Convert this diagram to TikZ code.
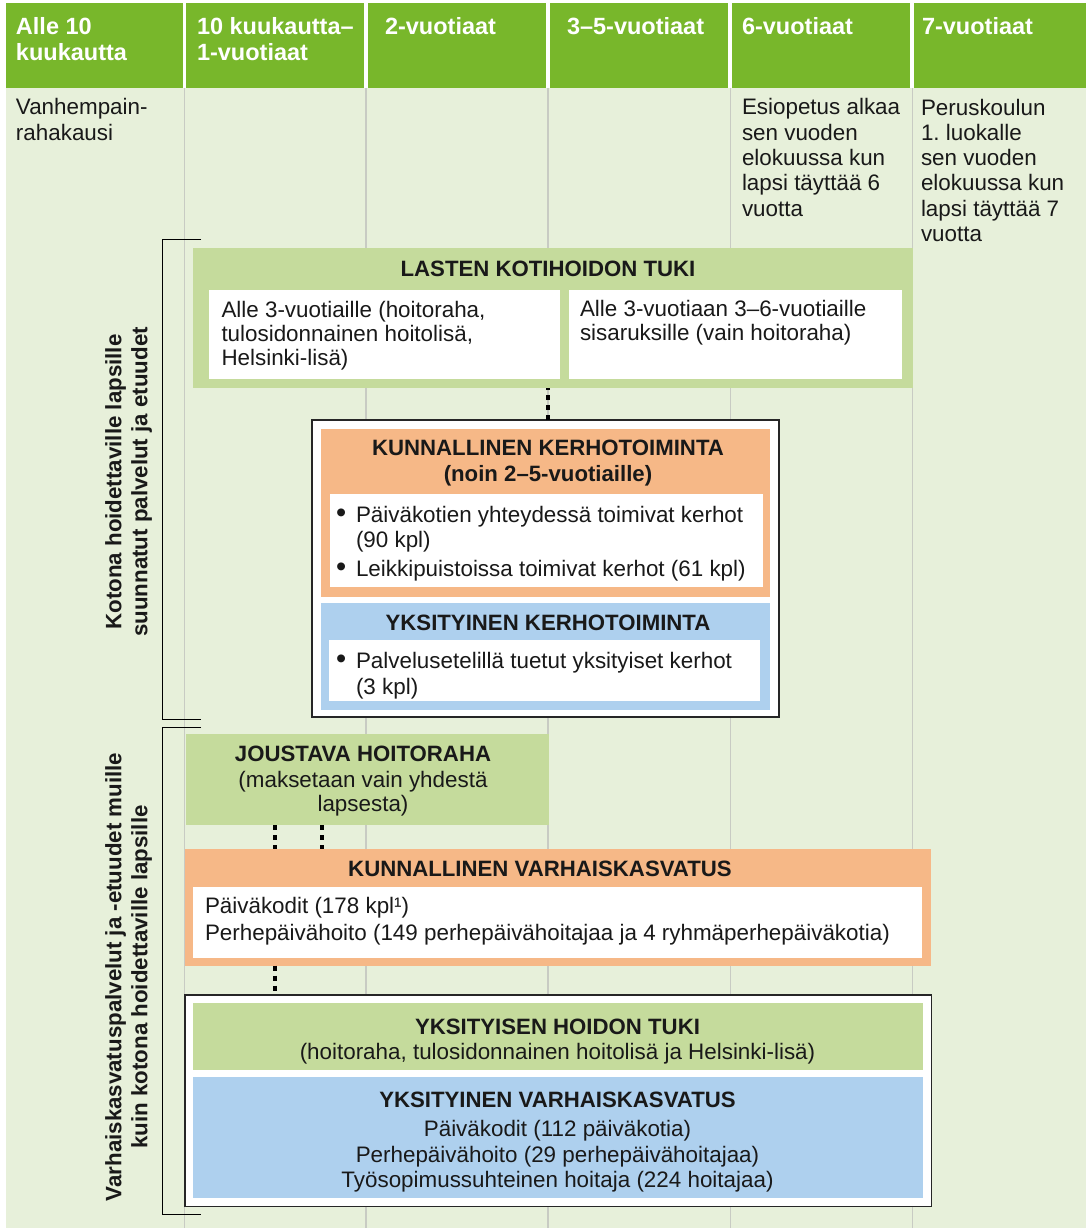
\documentclass[tikz,border=0pt]{standalone}
\usepackage{fontspec}
\setmainfont{Liberation Sans}
\usetikzlibrary{positioning,fit}

\definecolor{headgreen}{HTML}{78B72B}
\definecolor{pagegreen}{HTML}{E7F0DA}
\definecolor{tukigreen}{HTML}{C5DB9C}
\definecolor{kuntaorange}{HTML}{F6B887}
\definecolor{privblue}{HTML}{AED0EE}
\definecolor{gridgrey}{HTML}{C8CBC3}
\newcommand{\itembullet}{\makebox[20pt][l]{\fontsize{29}{25}\selectfont•}}

\begin{document}
\begin{tikzpicture}[x=1pt,y=-1pt,
    every node/.style={inner sep=0pt,outer sep=0pt,text=black!90,
        font=\fontsize{22.4}{25.3}\selectfont},
    headcell/.style={fill=headgreen},
    headtext/.style={anchor=base west,align=left,text=white,
        font=\fontsize{23.5}{26.5}\selectfont\bfseries},
    note/.style={anchor=base west,align=left},
    panel/.style={fill=#1},
    frame/.style={draw=black!85,line width=1.5pt,fill=white},
    title/.style={anchor=base,align=center,font=\fontsize{22.2}{26.5}\selectfont\bfseries},
    side/.style={rotate=90,align=center,font=\fontsize{22.3}{26}\selectfont\bfseries},
    brace/.style={draw=black,line width=1pt},
    dotline/.style={line width=3.5pt,dash pattern=on 5pt off 5pt},
]
\path[use as bounding box,fill=white] (0,0) rectangle (1086,1228);
\fill[pagegreen] (6,88) rectangle (1086,1228);

% age columns (text nodes sit on their last line)
\foreach \xa/\xb/\tx/\ty/\lab [count=\i] in {6/183/16/61/{Alle 10\\kuukautta},
    186/364/197/61/{10 kuukautta–\\1-vuotiaat}, 368/546/385/34.5/2-vuotiaat,
    550/728/567/34.5/3–5-vuotiaat, 732/910/742/34.5/6-vuotiaat, 914/1086/922/34.5/7-vuotiaat}{
    \node[headcell,fit={(\xa,3) (\xb,88)}] (head\i) {};
    \node[headtext] (headlab\i) at (\tx,\ty) {\lab};
}
\foreach \gx in {184.5,366,548,730.5,912.5}
    \draw[gridgrey,line width=1.5pt] (\gx,88) -- (\gx,1228);

\node[note] (parent) at (16,140) {Vanhempain-\\rahakausi};
\node[note] (preschool) at (742,216) {Esiopetus alkaa\\sen vuoden\\elokuussa kun\\lapsi täyttää 6\\vuotta};
\node[note] (school) at (921,241.5) {Peruskoulun\\1.\ luokalle\\sen vuoden\\elokuussa kun\\lapsi täyttää 7\\vuotta};

% brackets and side labels
\draw[brace] (201,239.5) -- (162.5,239.5) -- (162.5,719.5) -- (201,719.5);
\draw[brace] (201,727) -- (162.5,727) -- (162.5,1214) -- (201,1214);
\node[side] (homelab) at (128.5,482) {Kotona hoidettaville lapsille\\suunnatut palvelut ja etuudet};
\node[side] (daycarelab) at (128.5,977) {Varhaiskasvatuspalvelut ja -etuudet muille\\kuin kotona hoidettaville lapsille};

% home care allowance
\node[panel=tukigreen,fit={(193,248) (912.5,388)}] (lkt) {};
\node[title] (lkttitle) at (548,276) {LASTEN KOTIHOIDON TUKI};
\node[panel=white,fit={(209,290) (560,378.5)}] (lktyoung) {};
\node[note,font=\fontsize{22.4}{24}\selectfont] (lktyoungtext) at (221.5,365) {Alle 3-vuotiaille (hoitoraha,\\tulosidonnainen hoitolisä,\\Helsinki-lisä)};
\node[panel=white,fit={(569,290) (902,378.5)}] (lktsib) {};
\node[note,font=\fontsize{22.4}{24}\selectfont] (lktsibtext) at (580,340.5) {Alle 3-vuotiaan 3–6-vuotiaille\\sisaruksille (vain hoitoraha)};

% club activities
\node[frame,fit={(312,420) (779,717)}] (kerho) {};
\node[panel=kuntaorange,fit={(321,428.5) (770,597)}] (kunkerho) {};
\node[title] (kunkerhotitle) at (548,481.5) {KUNNALLINEN KERHOTOIMINTA\\(noin 2–5-vuotiaille)};
\node[panel=white,fit={(330,493.5) (762.5,587)}] (kunkerholist) {};
\node[note,font=\fontsize{22.4}{24.5}\selectfont] (kunkerhoitems) at (336,576.5) {\itembullet Päiväkotien yhteydessä toimivat kerhot\\\hspace*{20pt}(90 kpl)\\[5pt]\itembullet Leikkipuistoissa toimivat kerhot (61 kpl)};
\node[panel=privblue,fit={(321,602.5) (770,709.5)}] (privkerho) {};
\node[title] (privkerhotitle) at (548,630.5) {YKSITYINEN KERHOTOIMINTA};
\node[panel=white,fit={(329,640) (760,700.5)}] (privkerholist) {};
\node[note,font=\fontsize{22.4}{25.8}\selectfont] (privkerhoitems) at (336,694) {\itembullet Palvelusetelillä tuetut yksityiset kerhot\\\hspace*{20pt}(3 kpl)};

% flexible allowance
\node[panel=tukigreen,fit={(186,733.5) (548.5,825)}] (joustava) {};
\node[title] (joustavatitle) at (363,761.5) {JOUSTAVA HOITORAHA};
\node[anchor=base,align=center,font=\fontsize{22.4}{24}\selectfont] (joustavatext) at (363,811.5) {(maksetaan vain yhdestä\\lapsesta)};

% municipal early education
\node[panel=kuntaorange,fit={(184.5,848.5) (931,965.5)}] (kunvarh) {};
\node[title] (kunvarhtitle) at (540,876) {KUNNALLINEN VARHAISKASVATUS};
\node[panel=white,fit={(193,887) (922,957.5)}] (kunvarhlist) {};
\node[note,font=\fontsize{22.4}{26.5}\selectfont] (kunvarhtext) at (205,940) {Päiväkodit (178 kpl¹)\\Perhepäivähoito (149 perhepäivähoitajaa ja 4 ryhmäperhepäiväkotia)};

% private early education
\node[frame,fit={(185,995) (931.5,1206.5)}] (privframe) {};
\node[panel=tukigreen,fit={(193,1003) (922.5,1070)}] (privtuki) {};
\node[title] (privtukititle) at (557.5,1034) {YKSITYISEN HOIDON TUKI};
\node[anchor=base] (privtukitext) at (557.5,1059.5) {(hoitoraha, tulosidonnainen hoitolisä ja Helsinki-lisä)};
\node[panel=privblue,fit={(193,1077) (922.5,1198)}] (privvarh) {};
\node[title] (privvarhtitle) at (557.5,1107.5) {YKSITYINEN VARHAISKASVATUS};
\node[anchor=base,align=center,font=\fontsize{22.4}{25.5}\selectfont] (privvarhtext) at (557.5,1187.5) {Päiväkodit (112 päiväkotia)\\Perhepäivähoito (29 perhepäivähoitajaa)\\Työsopimussuhteinen hoitaja (224 hoitajaa)};

% dotted links
\draw[dotline] ([xshift=2.5pt]kerho.north) -- ([xshift=2.5pt]kerho.north |- lkt.south);
\draw[dotline] ([xshift=89pt]joustava.south west) -- ([xshift=89pt]joustava.south west |- kunvarh.north);
\draw[dotline] ([xshift=136pt]joustava.south west) -- ([xshift=136pt]joustava.south west |- kunvarh.north);
\draw[dotline] ([xshift=90.5pt]kunvarh.south west) -- ([xshift=90.5pt]kunvarh.south west |- privframe.north);
\end{tikzpicture}
\end{document}
